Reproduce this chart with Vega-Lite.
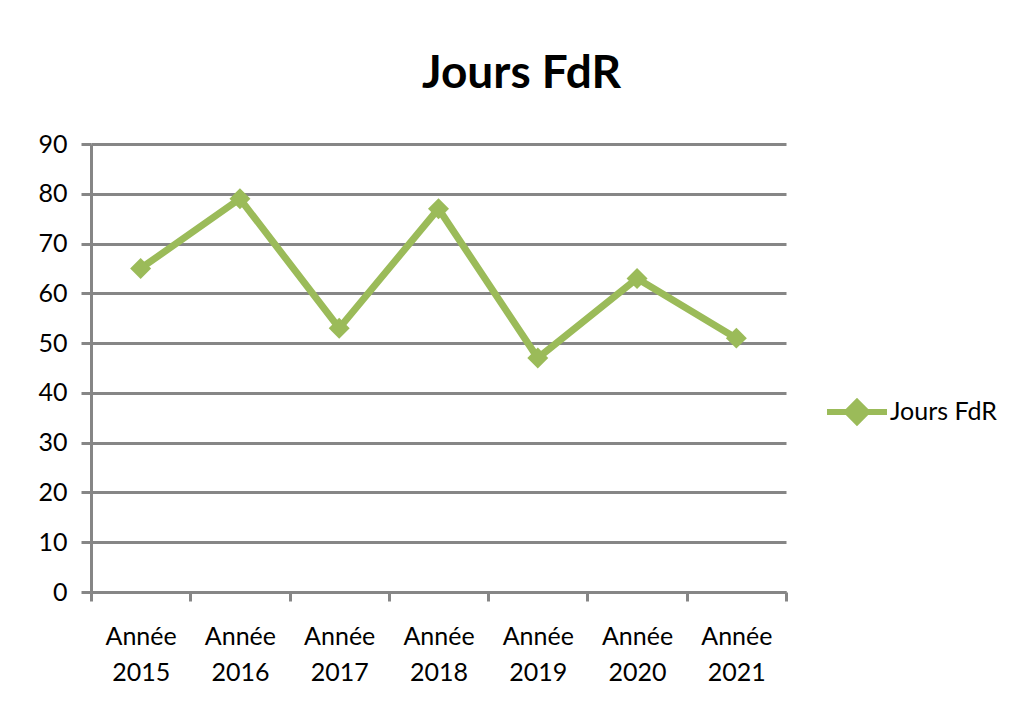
{
  "$schema": "https://vega.github.io/schema/vega-lite/v6.json",
  "width": 695,
  "height": 448,
  "autosize": {"type": "none"},
  "padding": {"left": 91, "top": 144, "right": 230, "bottom": 117},
  "background": "white",
  "title": {
    "text": "Jours FdR",
    "font": "Lato",
    "fontSize": 46,
    "fontWeight": "bold",
    "color": "black",
    "anchor": "middle",
    "frame": "group",
    "dx": 83,
    "offset": 34
  },
  "data": {
    "values": [
      {"annee": "Année 2015", "jours": 65, "serie": "Jours FdR"},
      {"annee": "Année 2016", "jours": 79, "serie": "Jours FdR"},
      {"annee": "Année 2017", "jours": 53, "serie": "Jours FdR"},
      {"annee": "Année 2018", "jours": 77, "serie": "Jours FdR"},
      {"annee": "Année 2019", "jours": 47, "serie": "Jours FdR"},
      {"annee": "Année 2020", "jours": 63, "serie": "Jours FdR"},
      {"annee": "Année 2021", "jours": 51, "serie": "Jours FdR"}
    ]
  },
  "config": {
    "view": {"stroke": null},
    "font": "Lato",
    "axis": {
      "labelFont": "Lato",
      "labelFontSize": 25,
      "labelColor": "black",
      "domainColor": "#868686",
      "domainWidth": 3,
      "tickColor": "#868686",
      "tickWidth": 3,
      "gridColor": "#868686",
      "gridWidth": 3,
      "gridOpacity": 1
    }
  },
  "encoding": {
    "x": {
      "field": "annee",
      "type": "nominal",
      "sort": null,
      "scale": {"type": "band", "paddingInner": 0, "paddingOuter": 0},
      "axis": {
        "title": null,
        "labelAngle": 0,
        "labelExpr": "split(datum.label, ' ')",
        "labelLineHeight": 36,
        "labelPadding": 23,
        "tickBand": "extent",
        "tickSize": 9,
        "grid": false
      }
    },
    "y": {
      "field": "jours",
      "type": "quantitative",
      "scale": {"domain": [0, 90], "nice": false},
      "axis": {
        "title": null,
        "values": [0, 10, 20, 30, 40, 50, 60, 70, 80, 90],
        "tickSize": 10,
        "labelPadding": 14,
        "grid": true
      }
    },
    "color": {
      "field": "serie",
      "type": "nominal",
      "scale": {"range": ["#9BBB59"]},
      "legend": {
        "title": null,
        "orient": "none",
        "legendX": 733,
        "legendY": 235,
        "symbolType": "M-1,0L1,0M0,-0.33L0.33,0L0,0.33L-0.33,0Z",
        "symbolSize": 3600,
        "symbolStrokeWidth": 6,
        "symbolFillColor": "#9BBB59",
        "symbolStrokeColor": "#9BBB59",
        "labelFont": "Lato",
        "labelFontSize": 25,
        "labelColor": "black",
        "labelOffset": 0
      }
    }
  },
  "layer": [
    {"mark": {"type": "line", "strokeWidth": 7, "strokeCap": "round"}},
    {"mark": {"type": "point", "shape": "diamond", "size": 440, "filled": true, "opacity": 1}}
  ]
}
